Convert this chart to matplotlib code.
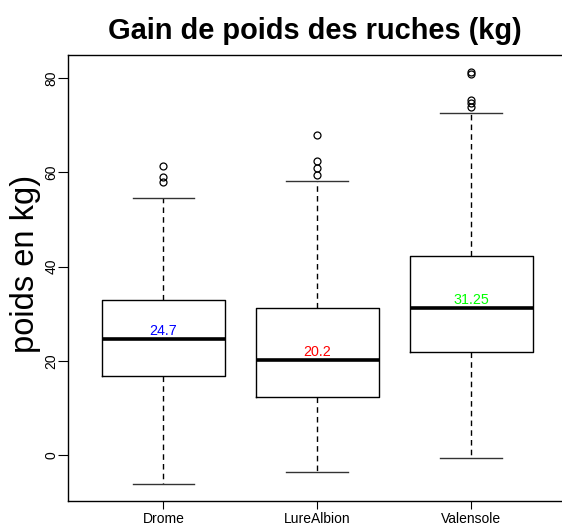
import matplotlib
matplotlib.use("Agg")
import matplotlib.pyplot as plt

# five-number summaries of hive weight gain per site (kg)
sites = ["Drome", "LureAlbion", "Valensole"]
whisker_low = [-6.2, -3.7, -0.7]
quart1 = [16.8, 12.4, 21.8]
medians = [24.7, 20.2, 31.25]
quart3 = [32.9, 31.1, 42.2]
whisker_high = [54.5, 58.2, 72.5]
outliers = [
    [57.9, 58.9, 61.3],
    [59.4, 60.9, 62.3, 68.0],
    [73.8, 74.6, 75.3, 80.8, 81.3],
]
median_colors = ["#0000FF", "#FF0000", "#00FF00"]

stats = []
for i, name in enumerate(sites):
    stats.append(dict(label=name, whislo=whisker_low[i], q1=quart1[i],
                      med=medians[i], q3=quart3[i], whishi=whisker_high[i],
                      fliers=outliers[i]))

plt.rcParams["font.family"] = ["Liberation Sans", "DejaVu Sans"]

fig = plt.figure(figsize=(5.62, 5.26), dpi=100)
ax = fig.add_axes([68 / 562, 1 - 501 / 526, 498.5 / 562, 446 / 526])

ax.bxp(stats, positions=[1, 2, 3], widths=0.8, capwidths=0.4,
       boxprops=dict(color="black", linewidth=1),
       whiskerprops=dict(color="black", linewidth=1, linestyle=(0, (4, 3))),
       capprops=dict(color="#333333", linewidth=1),
       medianprops=dict(color="black", linewidth=2.6),
       flierprops=dict(marker="o", markerfacecolor="none", markeredgecolor="black",
                       markersize=5, markeredgewidth=0.9))

# median values written just above each median line
for i, m in enumerate(medians):
    ax.text(i + 1, m + 0.85, f"{m:g}", color=median_colors[i], ha="center",
            va="baseline", fontsize=10.3)

ax.set_xlim(0.38, 3.62)
ax.set_ylim(-9.76, 84.88)
ax.set_yticks([0, 20, 40, 60, 80])
ax.set_xticks([1, 2, 3])
ax.set_xticklabels(sites, fontsize=10)
for lab in ax.get_yticklabels():
    lab.set_rotation(90)
    lab.set_va("center")
    lab.set_fontsize(10)
ax.tick_params(axis="y", length=7, width=0.8, pad=0, color="black")
ax.tick_params(axis="x", length=6, width=0.8, pad=2, color="black")
for sp in ax.spines.values():
    sp.set_linewidth(1)

fig.text(26 / 562, 1 - 264 / 526, "poids en kg)", rotation=90,
         ha="center", va="center", fontsize=23.5)
fig.text(315 / 562, 1 - 31 / 526, "Gain de poids des ruches (kg)",
         ha="center", va="center", fontsize=20.9, fontweight="bold")

fig.savefig("out.png", dpi=100)
